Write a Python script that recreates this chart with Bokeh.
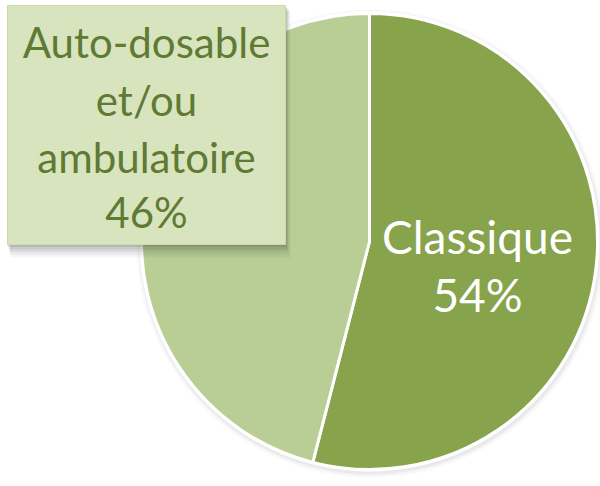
import math
from bokeh.plotting import figure
from bokeh.models import Range1d, ColumnDataSource
from bokeh.core.properties import value
from bokeh.embed import file_html
from bokeh.resources import INLINE

# Data
categories = ["Classique", "Auto-dosable et/ou ambulatoire"]
shares = [54, 46]
label_lines = [["Classique", "54%"], ["Auto-dosable", "et/ou", "ambulatoire", "46%"]]
colors = ["#87A34B", "#B8CE94"]

W, H = 600, 486
p = figure(width=W, height=H, x_range=Range1d(0, W), y_range=Range1d(0, H),
           output_backend="svg", toolbar_location=None, min_border=0)
p.axis.visible = False
p.grid.visible = False
p.outline_line_color = None
p.background_fill_color = "white"
p.border_fill_color = "white"

cx, cy, r = 369, H - 241, 228

# angles: start at top, clockwise
total = sum(shares)
starts, ends = [], []
cum = 0.0
for s in shares:
    a_end = math.pi / 2 - 2 * math.pi * cum / total
    a_start = math.pi / 2 - 2 * math.pi * (cum + s) / total
    starts.append(a_start)
    ends.append(a_end)
    cum += s

# soft outer shadow ring
for rr, al in [(r + 6, 0.05), (r + 4, 0.07), (r + 2.5, 0.08)]:
    p.circle(x=[cx + 1], y=[cy - 2], radius=rr, fill_color="#888888", fill_alpha=al, line_color=None)
p.circle(x=[cx], y=[cy], radius=r + 2, fill_color="white", line_color=None)

src = ColumnDataSource(dict(x=[cx] * 2, y=[cy] * 2, start=starts, end=ends, color=colors))
p.wedge(x="x", y="y", radius=r, start_angle="start", end_angle="end",
        fill_color="color", line_color="white", line_width=3, source=src)

# Classique label (inside slice)
cl = label_lines[0]
p.text(x=[477, 477], y=[H - 236, H - 294], text=cl, text_color="white",
       text_font=value("Lato"), text_font_size="46px", text_align="center",
       text_baseline="middle")

# Callout box for the other slice with shadow
bl, br, bt, bb = 7, 285, H - 5, H - 244
for off, al in [(10, 0.04), (8, 0.06), (6, 0.08), (4, 0.10), (2, 0.12)]:
    p.quad(left=[bl + off * 0.3], right=[br + off * 0.5], top=[bt - off * 0.6], bottom=[bb - off * 1.3],
           fill_color="#333333", fill_alpha=al, line_color=None)
p.quad(left=[bl], right=[br], top=[bt], bottom=[bb], fill_color="#D8E4BE",
       line_color="#C9D9A8", line_width=1)

al_ = label_lines[1]
ys = [H - 41, H - 99, H - 156, H - 211]
p.text(x=[146] * 4, y=ys, text=al_, text_color="#5F7A33",
       text_font=value("Lato"), text_font_size="42px", text_align="center",
       text_baseline="middle")

open("out.html", "w").write(file_html(p, INLINE))
